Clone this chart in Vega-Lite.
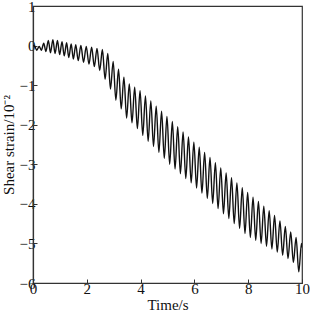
{
  "$schema": "https://vega.github.io/schema/vega-lite/v6.json",
  "width": 269,
  "height": 277,
  "autosize": "none",
  "padding": {"left": 33, "top": 6, "right": 8, "bottom": 29},
  "background": "white",
  "config": {
    "view": {"stroke": "#333", "strokeWidth": 1.2},
    "font": "Liberation Serif",
    "axis": {
      "grid": false,
      "domainColor": "#333",
      "domainWidth": 1.2,
      "tickColor": "#333",
      "tickSize": -4,
      "labelFont": "Liberation Serif",
      "labelFontSize": 15,
      "labelColor": "#111",
      "titleFont": "Liberation Serif",
      "titleFontSize": 15,
      "titleFontWeight": "normal",
      "titleColor": "#111"
    }
  },
  "data": {
    "values": [
      {"t": 0.0, "s": 0.0}, {"t": 0.06, "s": -0.01}, {"t": 0.14, "s": -0.12}, {"t": 0.23, "s": -0.02},
      {"t": 0.31, "s": -0.12}, {"t": 0.4, "s": 0.06}, {"t": 0.48, "s": -0.15}, {"t": 0.57, "s": 0.13},
      {"t": 0.65, "s": -0.18}, {"t": 0.74, "s": 0.15}, {"t": 0.82, "s": -0.2}, {"t": 0.91, "s": 0.13},
      {"t": 0.99, "s": -0.23}, {"t": 1.08, "s": 0.1}, {"t": 1.16, "s": -0.26}, {"t": 1.25, "s": 0.07},
      {"t": 1.33, "s": -0.3}, {"t": 1.42, "s": 0.04}, {"t": 1.5, "s": -0.34}, {"t": 1.59, "s": 0.02},
      {"t": 1.68, "s": -0.38}, {"t": 1.78, "s": 0.0}, {"t": 1.88, "s": -0.42}, {"t": 1.98, "s": -0.02},
      {"t": 2.08, "s": -0.47}, {"t": 2.18, "s": -0.04}, {"t": 2.28, "s": -0.53}, {"t": 2.38, "s": -0.07},
      {"t": 2.48, "s": -0.63}, {"t": 2.58, "s": -0.1}, {"t": 2.68, "s": -0.85}, {"t": 2.78, "s": -0.2},
      {"t": 2.88, "s": -1.1}, {"t": 2.98, "s": -0.4}, {"t": 3.08, "s": -1.38}, {"t": 3.18, "s": -0.6},
      {"t": 3.28, "s": -1.6}, {"t": 3.38, "s": -0.8}, {"t": 3.48, "s": -1.83}, {"t": 3.58, "s": -0.97},
      {"t": 3.68, "s": -1.95}, {"t": 3.78, "s": -1.05}, {"t": 3.88, "s": -2.1}, {"t": 3.98, "s": -1.14},
      {"t": 4.08, "s": -2.27}, {"t": 4.18, "s": -1.27}, {"t": 4.28, "s": -2.42}, {"t": 4.38, "s": -1.4},
      {"t": 4.48, "s": -2.55}, {"t": 4.58, "s": -1.53}, {"t": 4.68, "s": -2.7}, {"t": 4.78, "s": -1.66},
      {"t": 4.88, "s": -2.85}, {"t": 4.98, "s": -1.79}, {"t": 5.08, "s": -3.0}, {"t": 5.18, "s": -1.92},
      {"t": 5.28, "s": -3.12}, {"t": 5.38, "s": -2.05}, {"t": 5.48, "s": -3.24}, {"t": 5.58, "s": -2.18},
      {"t": 5.68, "s": -3.36}, {"t": 5.78, "s": -2.31}, {"t": 5.88, "s": -3.47}, {"t": 5.98, "s": -2.44},
      {"t": 6.08, "s": -3.6}, {"t": 6.18, "s": -2.57}, {"t": 6.28, "s": -3.73}, {"t": 6.38, "s": -2.7},
      {"t": 6.48, "s": -3.86}, {"t": 6.58, "s": -2.83}, {"t": 6.68, "s": -3.99}, {"t": 6.78, "s": -2.96},
      {"t": 6.88, "s": -4.12}, {"t": 6.98, "s": -3.09}, {"t": 7.08, "s": -4.25}, {"t": 7.18, "s": -3.22},
      {"t": 7.28, "s": -4.37}, {"t": 7.38, "s": -3.34}, {"t": 7.48, "s": -4.5}, {"t": 7.58, "s": -3.47},
      {"t": 7.68, "s": -4.62}, {"t": 7.78, "s": -3.59}, {"t": 7.88, "s": -4.75}, {"t": 7.98, "s": -3.71},
      {"t": 8.08, "s": -4.85}, {"t": 8.18, "s": -3.83}, {"t": 8.28, "s": -4.92}, {"t": 8.38, "s": -3.94},
      {"t": 8.48, "s": -5.0}, {"t": 8.58, "s": -4.06}, {"t": 8.68, "s": -5.07}, {"t": 8.78, "s": -4.17},
      {"t": 8.88, "s": -5.14}, {"t": 8.98, "s": -4.29}, {"t": 9.08, "s": -5.22}, {"t": 9.18, "s": -4.43},
      {"t": 9.28, "s": -5.3}, {"t": 9.38, "s": -4.57}, {"t": 9.48, "s": -5.38}, {"t": 9.58, "s": -4.71},
      {"t": 9.68, "s": -5.48}, {"t": 9.78, "s": -4.85}, {"t": 9.88, "s": -5.72}, {"t": 9.98, "s": -5.0},
      {"t": 10.0, "s": -5.1}
    ]
  },
  "mark": {"type": "line", "color": "#111", "strokeWidth": 1.4, "interpolate": "monotone", "clip": true},
  "encoding": {
    "x": {
      "field": "t", "type": "quantitative",
      "scale": {"domain": [0, 10], "nice": false},
      "axis": {"values": [0, 2, 4, 6, 8, 10], "title": "Time/s", "titlePadding": 1, "labelPadding": 2, "labelFlush": false}
    },
    "y": {
      "field": "s", "type": "quantitative",
      "scale": {"domain": [-6, 1], "nice": false, "zero": false},
      "axis": {"values": [-6, -5, -4, -3, -2, -1, 0, 1], "title": "Shear strain/10⁻²", "titlePadding": 3, "labelPadding": 2, "labelFlush": false}
    }
  }
}
